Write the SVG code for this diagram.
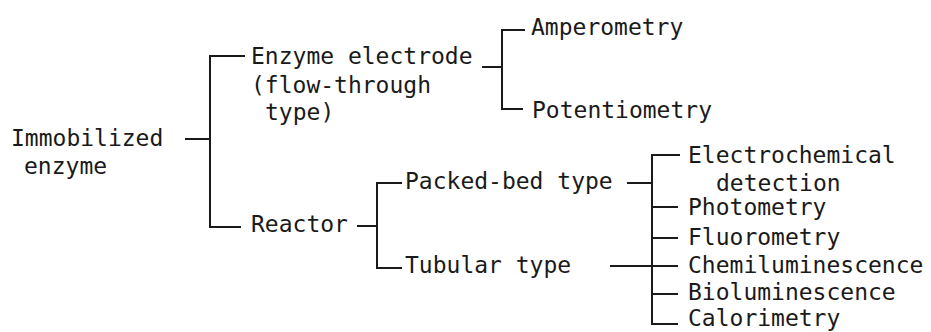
<svg xmlns="http://www.w3.org/2000/svg" width="931" height="332" viewBox="0 0 931 332">
<style>
text{font-family:"DejaVu Sans Mono","Liberation Mono",monospace;font-size:23px;letter-spacing:0;fill:#1a1a1a}
.c{fill:none;stroke:#1a1a1a;stroke-width:2}
</style>
<rect width="931" height="332" fill="#fff"/>
<g id="connectors" class="c">
<path d="M185 139H210"/>
<path d="M245 56H210V227H241"/>
<path d="M482 67H502"/>
<path d="M525 30H502V109H523"/>
<path d="M357 226H377"/>
<path d="M402 183H377V268H402"/>
<path d="M627 183H652"/>
<path d="M610 266H652"/>
<path d="M680 155H652V324H678"/>
<path d="M652 207H678M652 238H678M652 266H678M652 294H678"/>
</g>
<g id="immobilized-enzyme"><text x="11" y="146">Immobilized</text><text x="24" y="174">enzyme</text></g>
<g id="enzyme-electrode"><text x="251" y="64">Enzyme electrode</text><text x="251" y="93">(flow-through</text><text x="265" y="120">type)</text></g>
<g id="reactor"><text x="251" y="232">Reactor</text></g>
<g id="amperometry"><text x="531" y="35">Amperometry</text></g>
<g id="potentiometry"><text x="532" y="118">Potentiometry</text></g>
<g id="packed-bed"><text x="405" y="189">Packed-bed type</text></g>
<g id="tubular"><text x="405" y="273">Tubular type</text></g>
<g id="electrochemical"><text x="688" y="163">Electrochemical</text><text x="716" y="191">detection</text></g>
<g id="photometry"><text x="688" y="215">Photometry</text></g>
<g id="fluorometry"><text x="688" y="245">Fluorometry</text></g>
<g id="chemiluminescence"><text x="688" y="273">Chemiluminescence</text></g>
<g id="bioluminescence"><text x="688" y="300">Bioluminescence</text></g>
<g id="calorimetry"><text x="688" y="326">Calorimetry</text></g>
</svg>
